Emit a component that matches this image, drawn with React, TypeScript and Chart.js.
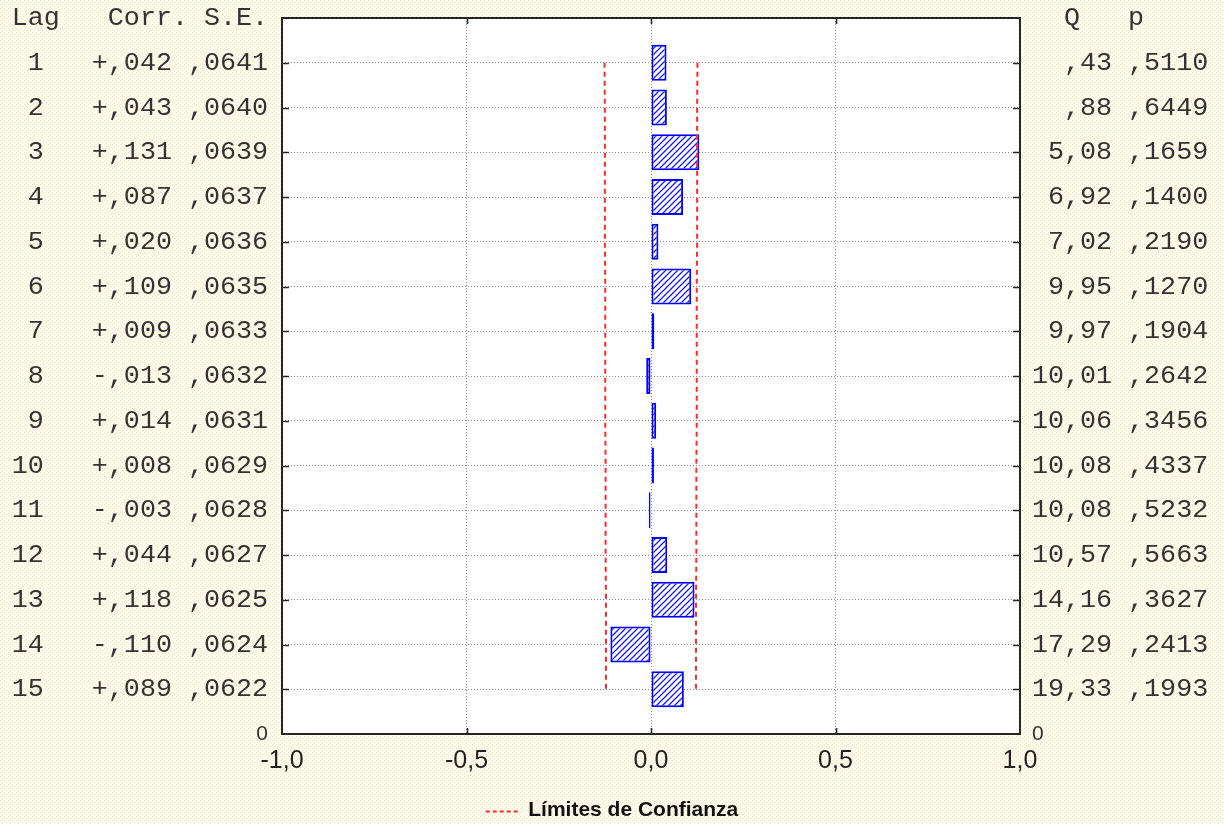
import React, { useEffect, useRef } from 'react';
import { Chart, registerables } from 'chart.js';

Chart.register(...registerables);

const lags = [1, 2, 3, 4, 5, 6, 7, 8, 9, 10, 11, 12, 13, 14, 15];
const autocorr = [0.042, 0.043, 0.131, 0.087, 0.02, 0.109, 0.009, -0.013, 0.014, 0.008, -0.003, 0.044, 0.118, -0.11, 0.089];
const stdErr = [0.0641, 0.064, 0.0639, 0.0637, 0.0636, 0.0635, 0.0633, 0.0632, 0.0631, 0.0629, 0.0628, 0.0627, 0.0625, 0.0624, 0.0622];
const qStat = [0.43, 0.88, 5.08, 6.92, 7.02, 9.95, 9.97, 10.01, 10.06, 10.08, 10.08, 10.57, 14.16, 17.29, 19.33];
const pValue = [0.511, 0.6449, 0.1659, 0.14, 0.219, 0.127, 0.1904, 0.2642, 0.3456, 0.4337, 0.5232, 0.5663, 0.3627, 0.2413, 0.1993];
const confLimit = [0.126, 0.125, 0.125, 0.125, 0.125, 0.124, 0.124, 0.124, 0.124, 0.123, 0.123, 0.123, 0.122, 0.122, 0.122];
const leftHeader = 'Lag   Corr. S.E.';
const rightHeader = '  Q   p';
const legendText = 'Límites de Confianza';
const xMin = -1;
const xMax = 1;
const xStep = 0.5;

const yTop = lags.length + 1;
const yOf = (lag: number) => yTop - lag;

const fmtCorr = (v: number) => (v < 0 ? '-' : '+') + ',' + String(Math.round(Math.abs(v) * 1000)).padStart(3, '0');
const fmtFrac4 = (v: number) => ',' + String(Math.round(v * 10000)).padStart(4, '0');
const fmtQ = (v: number) => {
  const s = v.toFixed(2).replace('.', ',');
  return (v < 1 ? s.slice(1) : s).padStart(5, ' ');
};
const leftLabel = (i: number) => String(lags[i]).padStart(2, ' ') + '   ' + fmtCorr(autocorr[i]) + ' ' + fmtFrac4(stdErr[i]);
const rightLabel = (i: number) => fmtQ(qStat[i]) + ' ' + fmtFrac4(pValue[i]);

const RED = '#ff2b2b';

function makeBgPattern(): CanvasPattern | string {
  const c = document.createElement('canvas');
  c.width = 4;
  c.height = 4;
  const g = c.getContext('2d');
  if (!g) return '#fffbec';
  g.fillStyle = '#fffdea';
  g.fillRect(0, 0, 4, 4);
  g.fillStyle = '#fbe0dc';
  g.fillRect(0, 0, 1, 1);
  g.fillRect(2, 2, 1, 1);
  return g.createPattern(c, 'repeat') || '#fffbec';
}

function makeHatch(): CanvasPattern | string {
  const s = 6;
  const c = document.createElement('canvas');
  c.width = s;
  c.height = s;
  const g = c.getContext('2d');
  if (!g) return '#8080ff';
  g.fillStyle = '#ffffff';
  g.fillRect(0, 0, s, s);
  g.strokeStyle = '#1a1aff';
  g.lineWidth = 1.3;
  g.beginPath();
  g.moveTo(0, s);
  g.lineTo(s, 0);
  g.moveTo(-1, 1);
  g.lineTo(1, -1);
  g.moveTo(s - 1, s + 1);
  g.lineTo(s + 1, s - 1);
  g.stroke();
  return g.createPattern(c, 'repeat') || '#8080ff';
}

const monoFont = { family: "'Liberation Mono', monospace", size: 26.7 };
const zeroFont = { family: "'Liberation Sans', Arial, sans-serif", size: 21 };

const noPad = (s: any) => {
  s.paddingTop = 0;
  s.paddingBottom = 0;
  s.paddingLeft = 0;
  s.paddingRight = 0;
};

export default function App() {
  const ref = useRef<HTMLCanvasElement | null>(null);

  useEffect(() => {
    if (!ref.current) return;
    const bg = makeBgPattern();
    const hatch = makeHatch();

    const framePlugin = {
      id: 'frameAndBg',
      beforeDraw(chart: any) {
        const { ctx, chartArea: a } = chart;
        ctx.save();
        ctx.fillStyle = bg;
        ctx.fillRect(0, 0, chart.width, chart.height);
        ctx.fillStyle = '#ffffff';
        ctx.fillRect(a.left, a.top, a.right - a.left, a.bottom - a.top);
        ctx.restore();
      },
      afterDraw(chart: any) {
        const { ctx, chartArea: a, scales } = chart;
        ctx.save();
        ctx.strokeStyle = '#262626';
        ctx.lineWidth = 2;
        ctx.strokeRect(a.left, a.top, a.right - a.left, a.bottom - a.top);
        ctx.beginPath();
        scales.y.ticks.forEach((t: any) => {
          if (t.value <= 0 || t.value >= yTop) return;
          const py = Math.round(scales.y.getPixelForValue(t.value)) + 0.5;
          ctx.moveTo(a.left, py);
          ctx.lineTo(a.left + 7, py);
          ctx.moveTo(a.right - 7, py);
          ctx.lineTo(a.right, py);
        });
        scales.x.ticks.forEach((t: any) => {
          if (t.value <= xMin || t.value >= xMax) return;
          const px = Math.round(scales.x.getPixelForValue(t.value)) + 0.5;
          ctx.moveTo(px, a.top);
          ctx.lineTo(px, a.top + 6);
          ctx.moveTo(px, a.bottom - 6);
          ctx.lineTo(px, a.bottom);
        });
        ctx.lineWidth = 1.6;
        ctx.stroke();
        const lg = chart.legend;
        if (lg && lg.legendHitBoxes && lg.legendHitBoxes[0]) {
          const hb = lg.legendHitBoxes[0];
          const cy = Math.round(hb.top + hb.height / 2) + 0.5;
          ctx.beginPath();
          ctx.strokeStyle = RED;
          ctx.lineWidth = 2;
          ctx.setLineDash([4, 3]);
          ctx.moveTo(hb.left, cy);
          ctx.lineTo(hb.left + 32, cy);
          ctx.stroke();
        }
        ctx.restore();
      },
    };

    const gridColorY = (c: any) => {
      const v = c.tick ? c.tick.value : -1;
      return v > 0 && v < yTop ? '#8e8e8e' : 'rgba(0,0,0,0)';
    };
    const gridColorX = (c: any) => {
      const v = c.tick ? c.tick.value : xMin;
      return v > xMin + 1e-9 && v < xMax - 1e-9 ? '#8e8e8e' : 'rgba(0,0,0,0)';
    };

    const chart = new Chart(ref.current, {
      type: 'bar',
      data: {
        datasets: [
          {
            type: 'line',
            label: legendText,
            indexAxis: 'y',
            data: lags.map((l, i) => ({ x: confLimit[i], y: yOf(l) })),
            borderColor: RED,
            backgroundColor: RED,
            borderWidth: 2,
            borderDash: [5, 4],
            pointRadius: 0,
            fill: false,
            tension: 0,
            order: 0,
            xAxisID: 'x',
            yAxisID: 'y',
          },
          {
            type: 'line',
            label: 'lower',
            indexAxis: 'y',
            data: lags.map((l, i) => ({ x: -confLimit[i], y: yOf(l) })),
            borderColor: RED,
            backgroundColor: RED,
            borderWidth: 2,
            borderDash: [5, 4],
            pointRadius: 0,
            fill: false,
            tension: 0,
            order: 0,
            xAxisID: 'x',
            yAxisID: 'y',
          },
          {
            type: 'bar',
            label: 'Corr.',
            indexAxis: 'y',
            data: lags.map((l, i) => ({ x: autocorr[i], y: yOf(l) })),
            backgroundColor: hatch as any,
            borderColor: '#0000ff',
            borderWidth: 2,
            borderSkipped: false,
            minBarLength: 2,
            categoryPercentage: 0.9,
            barPercentage: 0.9,
            order: 1,
            xAxisID: 'x',
            yAxisID: 'y',
          },
        ] as any,
      },
      options: {
        indexAxis: 'y',
        responsive: false,
        animation: false,
        events: [],
        layout: { padding: { left: 0, right: 0, top: 18, bottom: -7 } },
        plugins: {
          tooltip: { enabled: false },
          legend: {
            display: true,
            position: 'bottom',
            labels: {
              boxWidth: 32,
              boxHeight: 21,
              padding: 8,
              color: '#111111',
              font: { family: "'Liberation Sans', Arial, sans-serif", size: 21, weight: 'bold' },
              generateLabels: () => [
                {
                  text: legendText,
                  fillStyle: 'rgba(0,0,0,0)',
                  strokeStyle: 'rgba(0,0,0,0)',
                  lineWidth: 0,
                  hidden: false,
                  datasetIndex: 0,
                  fontColor: '#111111',
                },
              ],
            },
          },
        },
        scales: {
          x: {
            type: 'linear',
            position: 'bottom',
            min: xMin,
            max: xMax,
            ticks: {
              stepSize: xStep,
              autoSkip: false,
              maxRotation: 0,
              padding: 12,
              color: '#222222',
              font: { family: "'Liberation Sans', Arial, sans-serif", size: 25 },
              callback: (v: any) => Number(v).toFixed(1).replace('.', ','),
            },
            grid: { color: gridColorX, lineWidth: 1, drawTicks: false },
            border: { display: false, dash: [1, 2] },
            afterFit: (s: any) => {
              s.height = 58;
              noPad(s);
            },
          },
          y: {
            type: 'linear',
            position: 'left',
            min: 0,
            max: yTop,
            offset: false,
            ticks: {
              stepSize: 1,
              autoSkip: false,
              padding: 14,
              color: '#333333',
              font: (c: any) => (c.tick && c.tick.value === 0 ? zeroFont : monoFont),
              callback: (v: any) => {
                const n = Number(v);
                if (n === yTop) return leftHeader;
                if (n === 0) return '0';
                return leftLabel(yTop - n - 1);
              },
            },
            grid: { color: gridColorY, lineWidth: 1, drawTicks: false, offset: false },
            border: { display: false, dash: [1, 2] },
            afterFit: (s: any) => {
              s.width = 282;
              noPad(s);
            },
          },
          y2: {
            type: 'linear',
            position: 'right',
            min: 0,
            max: yTop,
            offset: false,
            ticks: {
              stepSize: 1,
              autoSkip: false,
              padding: 12,
              color: '#333333',
              font: (c: any) => (c.tick && c.tick.value === 0 ? zeroFont : monoFont),
              callback: (v: any) => {
                const n = Number(v);
                if (n === yTop) return rightHeader;
                if (n === 0) return '0';
                return rightLabel(yTop - n - 1);
              },
            },
            grid: { display: false, drawTicks: false, offset: false },
            border: { display: false },
            afterFit: (s: any) => {
              s.width = 204;
              noPad(s);
            },
          },
        },
      } as any,
      plugins: [framePlugin],
    });

    return () => chart.destroy();
  }, []);

  return (
    <div style={{ position: 'absolute', left: 0, top: 0, width: 1224, height: 824, overflow: 'hidden' }}>
      <canvas ref={ref} width={1224} height={824} style={{ display: 'block' }} />
    </div>
  );
}
